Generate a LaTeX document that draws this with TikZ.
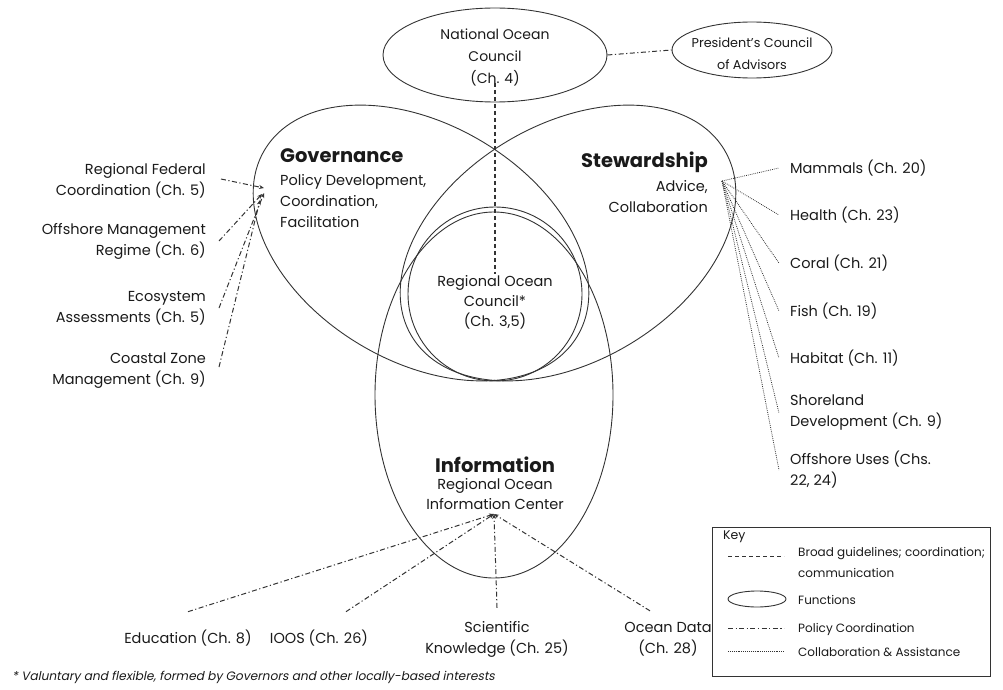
\documentclass[tikz,border=0pt]{standalone}
\usepackage{fontspec}
\setmainfont{Poppins}
\newfontfamily\footfont{Poppins}[FakeSlant=0.2]
\usetikzlibrary{shapes.geometric,arrows.meta}
\definecolor{ink}{HTML}{1A1A1A}
\definecolor{ln}{HTML}{333333}
\begin{document}
\begin{tikzpicture}[x=1pt,y=-1pt,
  lbl/.style={font=\fontsize{14.5}{21}\selectfont, inner sep=1pt, text=ink},
  klbl/.style={font=\fontsize{12}{20}\selectfont, inner sep=1pt, text=ink, anchor=west, align=left},
  ttl/.style={font=\fontsize{19.5}{21}\bfseries\selectfont, inner sep=1pt, text=ink},
  func/.style={draw=ln, line width=0.9pt, ellipse, inner sep=0pt},
  broad/.style={draw=ln, line width=1.1pt, dash pattern=on 4pt off 3pt},
  pcoord/.style={draw=ln, line width=1pt, dash pattern=on 5pt off 2.5pt on 1.2pt off 2.5pt},
  collab/.style={draw=ln, line width=0.8pt, dash pattern=on 0.8pt off 1.1pt},
  tip/.style={-{Stealth[length=5pt,width=4pt]}}]
\useasboundingbox (0,0) rectangle (1003,690);

% functions (ellipses)
\node[func, minimum width=224pt, minimum height=94pt] (noce) at (495,55) {};
\node[func, minimum width=160pt, minimum height=56pt] (pce) at (752,50) {};
\node[func, minimum width=364pt, minimum height=237pt, rotate=-30.7] (gove) at (421,243) {};
\node[func, minimum width=364pt, minimum height=237pt, rotate=30.7] (stewe) at (568,243) {};
\node[func, minimum width=238pt, minimum height=366pt] (infoe) at (494,395) {};
\node[draw=ln, line width=0.9pt, circle, inner sep=0pt, minimum size=174pt] (roce) at (495,294) {};

% texts inside
\node[lbl, align=center, font=\fontsize{14}{22}\selectfont] (noct) at (495,57) {National Ocean\\Council\\(Ch. 4)};
\node[lbl, align=center, font=\fontsize{12.8}{22}\selectfont] (pct) at (752,54) {President’s Council\\of Advisors};
\node[ttl, anchor=west] (govt) at (279,156) {Governance};
\node[lbl, anchor=west, align=left] (govs) at (279,201) {Policy Development,\\Coordination,\\Facilitation};
\node[ttl, anchor=east] (stewt) at (709,162) {Stewardship};
\node[lbl, anchor=east, align=right] (stews) at (709,197) {Advice,\\Collaboration};
\node[lbl, align=center, font=\fontsize{14.5}{20}\selectfont] (roct) at (495,302) {Regional Ocean\\Council*\\(Ch. 3,5)};
\node[ttl] (infot) at (495,465) {Information};
\node[lbl, align=center, font=\fontsize{14.5}{20}\selectfont] (infos) at (495,494) {Regional Ocean\\Information Center};

% hubs
\coordinate (ghub) at (264,188);
\coordinate (shub) at (722,181);
\coordinate (ihub) at (494,514);

% left labels
\node[lbl, anchor=east, align=right] (rfc) at (207,181) {Regional Federal\\Coordination (Ch. 5)};
\node[lbl, anchor=east, align=right] (omr) at (207,241) {Offshore Management\\Regime (Ch. 6)};
\node[lbl, anchor=east, align=right] (eco) at (207,308) {Ecosystem\\Assessments (Ch. 5)};
\node[lbl, anchor=east, align=right] (czm) at (207,371) {Coastal Zone\\Management (Ch. 9)};

% right labels
\node[lbl, anchor=west] (mam) at (789,168) {Mammals (Ch. 20)};
\node[lbl, anchor=west] (hea) at (789,215) {Health (Ch. 23)};
\node[lbl, anchor=west] (cor) at (789,263) {Coral (Ch. 21)};
\node[lbl, anchor=west] (fis) at (789,311) {Fish (Ch. 19)};
\node[lbl, anchor=west] (hab) at (789,358) {Habitat (Ch. 11)};
\node[lbl, anchor=west, align=left] (sho) at (789,413) {Shoreland\\Development (Ch. 9)};
\node[lbl, anchor=west, align=left] (off) at (789,470) {Offshore Uses (Chs.\\22, 24)};

% bottom labels
\node[lbl] (edu) at (188,638) {Education (Ch. 8)};
\node[lbl] (ioos) at (319,638) {IOOS (Ch. 26)};
\node[lbl, align=center] (sci) at (497,639) {Scientific\\Knowledge (Ch. 25)};
\node[lbl, align=center] (oda) at (668,639) {Ocean Data\\(Ch. 28)};

% connectors
\draw[broad] ([yshift=4pt]noct.south) -- (roct.north);
\draw[pcoord] (noce.east) -- (pce.west);

\draw[pcoord, tip] ([xshift=14pt,yshift=2pt]rfc.east) -- (ghub);
\draw[pcoord, tip] ([xshift=12pt]omr.east) -- ([xshift=-2pt,yshift=-6pt]ghub);
\draw[pcoord, tip] ([xshift=12pt]eco.east) -- ([yshift=-5pt]ghub);
\draw[pcoord, tip] ([xshift=12pt,yshift=4pt]czm.east) -- ([xshift=-4pt,yshift=-12pt]ghub);

\draw[collab] (shub) -- ([xshift=-10pt]mam.west);
\draw[collab] (shub) -- ([xshift=-10pt]hea.west);
\draw[collab] (shub) -- ([xshift=-10pt]cor.west);
\draw[collab] (shub) -- ([xshift=-10pt]fis.west);
\draw[collab] (shub) -- ([xshift=-10pt]hab.west);
\draw[collab] (shub) -- ([xshift=-10pt]sho.west);
\draw[collab] (shub) -- ([xshift=-10pt]off.west);

\draw[pcoord, tip] ([yshift=17pt]edu.north) -- (ihub);
\draw[pcoord, tip] ([xshift=27pt,yshift=17pt]ioos.north) -- (ihub);
\draw[pcoord, tip] ([yshift=12pt]sci.north) -- (ihub);
\draw[pcoord, tip] ([xshift=-18pt,yshift=10pt]oda.north) -- (ihub);

% key
\node[draw=ln, line width=1.2pt, rectangle, inner sep=0pt, minimum width=278pt, minimum height=149pt, anchor=north west] (keybox) at (712,527) {};
\node[klbl, font=\fontsize{12.5}{20}\selectfont] (keyt) at (722,537) {Key};
\coordinate (k1a) at (728,556); \coordinate (k1b) at (784,556);
\draw[broad, line width=0.9pt] (k1a) -- (k1b);
\node[klbl, font=\fontsize{12}{21}\selectfont] (k1t) at (797,562) {Broad guidelines; coordination;\\communication};
\node[func, minimum width=58pt, minimum height=16pt] (k2e) at (757,599) {};
\node[klbl] (k2t) at (797,600) {Functions};
\coordinate (k3a) at (728,628); \coordinate (k3b) at (784,628);
\draw[pcoord, line width=0.9pt] (k3a) -- (k3b);
\node[klbl] (k3t) at (797,629) {Policy Coordination};
\coordinate (k4a) at (728,651); \coordinate (k4b) at (784,651);
\draw[collab, line width=0.6pt] (k4a) -- (k4b);
\node[klbl] (k4t) at (797,652) {Collaboration \& Assistance};

% footnote
\node[anchor=west, inner sep=0pt, text=ink, font=\footfont\fontsize{12.2}{14}\selectfont] (foot) at (12,677) {* Valuntary and flexible, formed by Governors and other locally-based interests};
\end{tikzpicture}
\end{document}
